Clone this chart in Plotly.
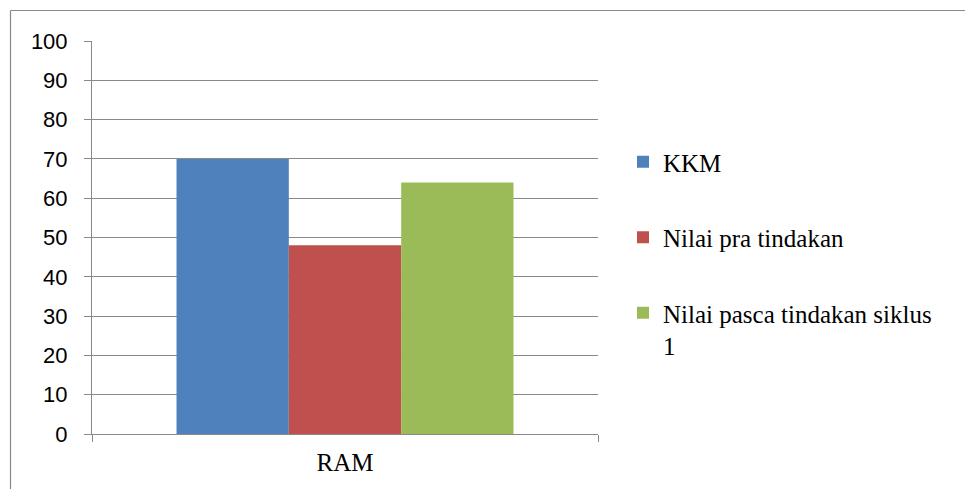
import plotly.graph_objects as go

# Data
categories = ["RAM"]
series_names = ["KKM", "Nilai pra tindakan", "Nilai pasca tindakan siklus<br>1"]
series_values = [[70], [48], [64]]
series_colors = ["#4F81BD", "#C0504D", "#9BBB59"]
y_ticks = list(range(0, 101, 10))

W, H = 965, 489
L, R, T, B = 92, 367, 41, 55
pw, ph = W - L - R, H - T - B

TEXT_FONT = "'Liberation Serif', 'Times New Roman', 'Liberation Sans', sans-serif"
SANS = "Liberation Sans"


def px_x(px):
    return (px - L) / pw


def px_y(py):
    return (H - B - py) / ph


fig = go.Figure()
for i, (name, vals, col) in enumerate(zip(series_names, series_values, series_colors)):
    fig.add_trace(go.Bar(
        x=categories, y=vals, name=name, marker=dict(color=col, line=dict(width=0)),
        legendgroup=f"g{i}",
    ))

grey = "#898989"
fig.update_layout(
    width=W, height=H,
    margin=dict(l=L, r=R, t=T, b=B, pad=0, autoexpand=False),
    paper_bgcolor="white", plot_bgcolor="white",
    barmode="group", bargap=0.334, bargroupgap=0,
    showlegend=True,
    legend=dict(
        x=px_x(623), y=px_y(139), xanchor="left", yanchor="top",
        font=dict(family=TEXT_FONT, size=25, color="black"),
        tracegroupgap=40, valign="top", bgcolor="rgba(0,0,0,0)",
        itemwidth=30,
    ),
    xaxis=dict(
        type="category", range=[-0.5, 0.5],
        showline=True, linecolor=grey, linewidth=1,
        ticks="outside", tickson="boundaries", ticklen=7, tickcolor=grey, tickwidth=1,
        tickfont=dict(family=TEXT_FONT, size=25, color="black"),
        ticklabelstandoff=6,
        showgrid=False,
    ),
    yaxis=dict(
        range=[0, 100], tickvals=y_ticks,
        showline=True, linecolor=grey, linewidth=1,
        ticks="outside", ticklen=7, tickcolor=grey, tickwidth=1,
        showgrid=True, gridcolor=grey, gridwidth=1,
        zeroline=False,
        tickfont=dict(family=SANS, size=22, color="black"),
        ticklabelstandoff=12,
    ),
    shapes=[
        dict(type="line", xref="paper", yref="paper",
             x0=px_x(10.5), x1=px_x(975), y0=px_y(10.5), y1=px_y(10.5),
             line=dict(color=grey, width=1.2)),
        dict(type="line", xref="paper", yref="paper",
             x0=px_x(10.5), x1=px_x(10.5), y0=px_y(10.5), y1=px_y(500),
             line=dict(color=grey, width=1.2)),
    ],
)

fig.write_html("out.html")
